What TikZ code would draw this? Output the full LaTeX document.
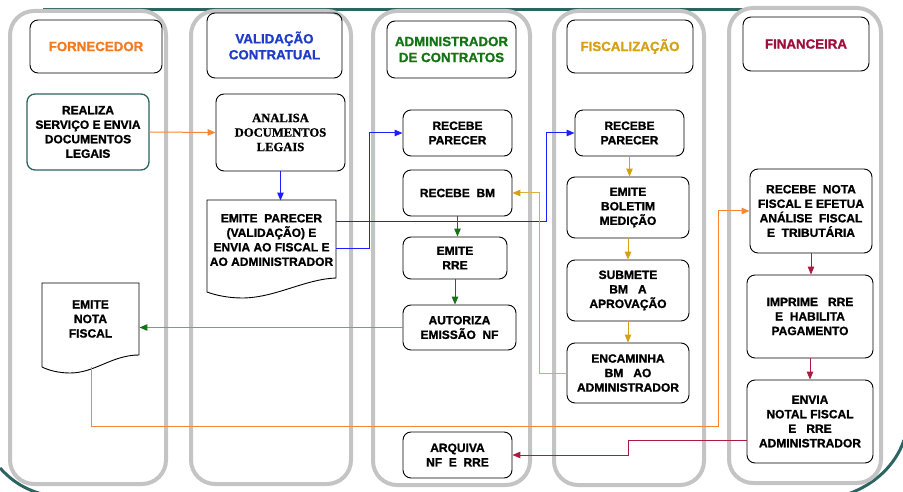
\documentclass[tikz,border=0pt]{standalone}
\usepackage{fontspec}
\setmainfont{Liberation Sans}[BoldFont={Liberation Sans Bold}]
\newfontfamily\serifbold{Liberation Serif Bold}[FakeBold=1.2]
\newfontfamily\sansbold{Liberation Sans Bold}[FakeBold=1.2]
\usepackage{tikz}
\usetikzlibrary{arrows.meta}
\definecolor{laneGrey}{RGB}{196,196,196}
\definecolor{slideTeal}{RGB}{44,100,98}
\definecolor{fornOrange}{RGB}{244,122,32}
\definecolor{valBlue}{RGB}{30,60,200}
\definecolor{admGreen}{RGB}{20,115,20}
\definecolor{fisGold}{RGB}{212,160,20}
\definecolor{finRed}{RGB}{160,16,60}
\definecolor{linkOrange}{RGB}{247,135,50}
\definecolor{linkBlue}{RGB}{30,30,250}
\definecolor{linkGreen}{RGB}{105,170,105}
\definecolor{linkGold}{RGB}{220,175,70}
\definecolor{linkRed}{RGB}{175,25,65}
\newcommand\boxfont{\fontsize{12}{14.5}\selectfont\sansbold}
\newcommand\headfont{\fontsize{13.3}{16}\selectfont\sansbold}
\tikzset{every picture/.style={line width=0.9pt}}

\begin{document}
\begin{tikzpicture}[x=1pt,y=1pt,yscale=-1,xscale=1,
  lane/.style={draw=laneGrey,line width=4pt,rounded corners=24pt,fill=white},
  head/.style={draw,rounded corners=8pt,align=center,font=\headfont,inner sep=2pt},
  proc/.style={draw,rounded corners=8pt,align=center,font=\boxfont,inner sep=2pt},
  docbox/.style={align=center,font=\boxfont,inner sep=0pt},
  link/.style={line width=1pt,-{Triangle[length=8pt,width=6.5pt]}}]
\useasboundingbox (0,0) rectangle (903,492);

%Slide decoration
\draw[slideTeal,line width=3pt] (43,10) -- (852,10);
\draw[slideTeal,line width=3pt] (0,468) .. controls (12,481) and (24,489) .. (42,494);
\draw[slideTeal,line width=3pt] (904,440) .. controls (896,464) and (876,484) .. (848,494);

%Lanes
\draw[lane] (10,11) rectangle (166,484);
\draw[lane] (191,11) rectangle (351,484);
\draw[lane] (373,11) rectangle (530,485);
\draw[lane] (554,11) rectangle (704,485);
\draw[lane] (729,8) rectangle (881,483);

% Header Nodes
\node[head,text=fornOrange,minimum width=132pt,minimum height=53pt] (hForn) at (96,46.5) {FORNECEDOR};
\node[head,text=valBlue,minimum width=135pt,minimum height=65pt] (hVal) at (274.5,45.5) {VALIDAÇÃO\\CONTRATUAL};
\node[head,text=admGreen,minimum width=129pt,minimum height=57pt] (hAdm) at (451.5,49.5) {ADMINISTRADOR\\DE CONTRATOS};
\node[head,text=fisGold,minimum width=126pt,minimum height=53pt] (hFis) at (630,46.5) {FISCALIZAÇÃO};
\node[head,text=finRed,minimum width=126pt,minimum height=54pt] (hFin) at (806,44) {FINANCEIRA};

% Fornecedor
\node[proc,draw=slideTeal,line width=1.3pt,minimum width=122pt,minimum height=76pt] (realiza) at (88,132) {REALIZA\\SERVIÇO E ENVIA\\DOCUMENTOS\\LEGAIS};
%Shape: Document
\draw (42,283) -- (139,283) -- (139,355) .. controls (112,355) and (95,373) .. (70,373) .. controls (58,373) and (48,370) .. (42,367) -- cycle;
\node[docbox,minimum width=97pt,minimum height=72pt] (nota) at (90.5,319) {EMITE\\NOTA\\FISCAL};
\coordinate (notaOut) at (91,367);

% Validacao contratual
\node[proc,font=\fontsize{12.6}{14.5}\selectfont\serifbold,minimum width=129pt,minimum height=77pt] (analisa) at (280.5,132.5) {ANALISA\\DOCUMENTOS\\LEGAIS};
%Shape: Document
\draw (207,200) -- (336,200) -- (336,278) .. controls (305,279) and (275,298) .. (242,298) .. controls (228,298) and (215,295) .. (207,292) -- cycle;
\node[docbox,minimum width=129pt,minimum height=78pt] (parecer) at (271.5,240) {EMITE\ \ PARECER\\(VALIDAÇÃO) E\\ENVIA AO FISCAL E\\AO ADMINISTRADOR};

% Administrador
\node[proc,minimum width=109pt,minimum height=46pt] (recAdm) at (457.5,133) {RECEBE\\PARECER};
\node[proc,minimum width=109pt,minimum height=46pt] (recBM) at (457.5,193) {RECEBE\ \ BM};
\node[proc,minimum width=104pt,minimum height=42pt] (emRRE) at (455,258) {EMITE\\RRE};
\node[proc,minimum width=113pt,minimum height=45pt] (autNF) at (459.5,327.5) {AUTORIZA\\EMISSÃO\ \ NF};
\node[proc,minimum width=109pt,minimum height=46pt] (arquiva) at (457.5,455) {ARQUIVA\\NF\ \ E\ \ RRE};

% Fiscalizacao
\node[proc,minimum width=109pt,minimum height=46pt] (recFis) at (629.5,133) {RECEBE\\PARECER};
\node[proc,minimum width=122pt,minimum height=61pt] (emBol) at (628,207.5) {EMITE\\BOLETIM\\MEDIÇÃO};
\node[proc,minimum width=122pt,minimum height=61pt] (subBM) at (628,290.5) {SUBMETE\\BM\ \ \ A\\APROVAÇÃO};
\node[proc,minimum width=122pt,minimum height=60pt] (encBM) at (628,373) {ENCAMINHA\\BM\ \ \ AO\\ADMINISTRADOR};

% Financeira
\node[proc,minimum width=122pt,minimum height=84pt] (recNF) at (811,211) {RECEBE\ \ NOTA\\FISCAL E EFETUA\\ANÁLISE\ \ FISCAL\\E\ \ TRIBUTÁRIA};
\node[proc,minimum width=126pt,minimum height=83pt] (impRRE) at (810,316.5) {IMPRIME\ \ \ RRE\\E\ \ HABILITA\\PAGAMENTO};
\node[proc,minimum width=126pt,minimum height=83pt] (envNF) at (810,421.5) {ENVIA\\NOTAL FISCAL\\E\ \ \ RRE\\ADMINISTRADOR};

%Connectors
\draw[link,linkOrange] (realiza.east) -- (analisa.west);
\draw[link,linkBlue] (analisa.south) -- (analisa.south |- parecer.north);
\draw[link,linkBlue] ([yshift=-18pt]parecer.east) -- ++(210,0) |- (recFis.west);
\draw[link,linkBlue] ([yshift=8pt]parecer.east) -- ++(33,0) |- (recAdm.west);
\draw[link,admGreen] (recBM.south) -- (recBM.south |- emRRE.north);
\draw[link,admGreen] (emRRE.south) -- (emRRE.south |- autNF.north);
\draw[linkGreen,line width=1pt,-{Triangle[length=8pt,width=6.5pt,color=admGreen]}] (autNF.west) -- (autNF.west -| nota.east);
\draw[link,fisGold] (recFis.south) -- (recFis.south |- emBol.north);
\draw[link,fisGold] (emBol.south) -- (emBol.south |- subBM.north);
\draw[link,fisGold] (subBM.south) -- (subBM.south |- encBM.north);
\draw[linkGold,line width=1pt,-{Triangle[length=8pt,width=6.5pt,color=fisGold]}] (encBM.west) -- ++(-27,0) |- (recBM.east);
\draw[link,linkOrange] (notaOut) -- ++(0,59) -| ([xshift=-31pt]recNF.west) -- (recNF.west);
\draw[link,linkRed] (recNF.south) -- (recNF.south |- impRRE.north);
\draw[link,linkRed] (impRRE.south) -- (impRRE.south |- envNF.north);
\draw[link,linkRed] ([yshift=18.5pt]envNF.west) -- ++(-118,0) |- (arquiva.east);

\end{tikzpicture}
\end{document}
